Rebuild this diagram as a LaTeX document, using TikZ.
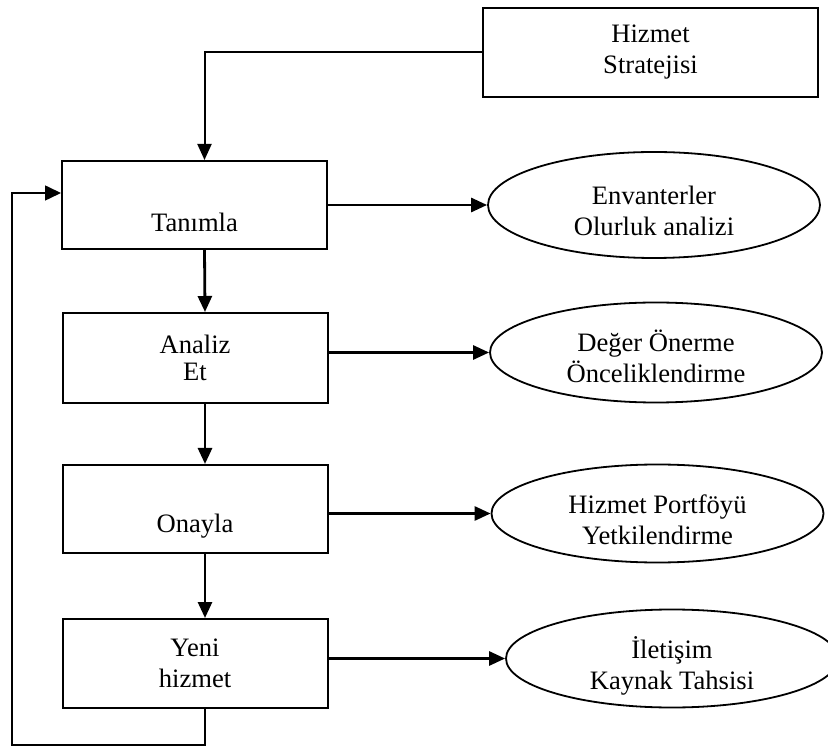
\documentclass[tikz,border=0pt]{standalone}
\usepackage{fontspec}
\setmainfont{Liberation Serif}
\usetikzlibrary{arrows.meta,shapes.geometric}

% two lines of an oval, set a little below its middle
\newcommand{\ovaltext}[2]{\rule{0pt}{18pt}#1\\#2\rule[-3pt]{0pt}{1pt}}

\begin{document}
\begin{tikzpicture}[
  x=0.5pt, y=-0.5pt,
  font=\fontsize{13.3}{15.5}\selectfont,
  box/.style={draw, line width=1pt, align=center, minimum width=132.5pt, minimum height=44pt, inner sep=0pt},
  oval/.style={draw, ellipse, line width=0.9pt, align=center, minimum width=166pt, minimum height=50pt,
    inner xsep=0pt, inner ysep=-6pt},
  arrow/.style={-{Triangle[length=8pt,width=7pt]}, line width=1.4pt},
  link/.style={-{Triangle[length=8pt,width=7pt]}, line width=1pt},
  back/.style={-{Triangle[length=8pt,width=7.5pt]}, line width=0.8pt}
]
\useasboundingbox (0,0) rectangle (828,747);
\clip (0,0) rectangle (828,747);

\node[box, minimum width=167.5pt, minimum height=44.5pt] (strat) at (650.5,52.5) {Hizmet\\Stratejisi};
\node[box] (tanimla) at (194.5,205) {\strut\\Tanımla};
\node[box, minimum height=45pt] (analiz) at (195,358) {Analiz\\[-2pt]Et};
\node[box] (onayla) at (195,509) {\strut\\Onayla};
\node[box, minimum height=44.5pt] (yeni) at (195,663.5) {Yeni\\hizmet};

\node[oval, minimum height=53pt] (envanter) at (654,205) {\ovaltext{Envanterler}{Olurluk analizi}};
\node[oval] (deger) at (656,352.5) {\ovaltext{Değer Önerme}{Önceliklendirme}};
\node[oval, minimum height=49pt] (portfoy) at (657.5,513.5) {\ovaltext{Hizmet Portföyü}{Yetkilendirme}};
\node[oval, minimum height=49pt] (iletisim) at (672,658.5) {\ovaltext{İletişim}{Kaynak Tahsisi}};

% strateji girdisi
\draw[link] (strat.west) -| ([xshift=5pt]tanimla.north);

% ana akis
\foreach \a/\b in {tanimla/analiz, analiz/onayla, onayla/yeni}
  \draw[arrow] ([xshift=5pt]\a.south) -- ([xshift=5pt]\b.north);

% ciktilar
\foreach \a/\b in {tanimla/envanter, analiz/deger, onayla/portfoy, yeni/iletisim}
  \draw[arrow] (\a.east |- \b.west) -- (\b.west);

% geri besleme
\coordinate (dip) at (12,745);
\draw[back] ([xshift=5pt]yeni.south) |- (dip) |- ([yshift=6pt]tanimla.west);

\end{tikzpicture}
\end{document}
